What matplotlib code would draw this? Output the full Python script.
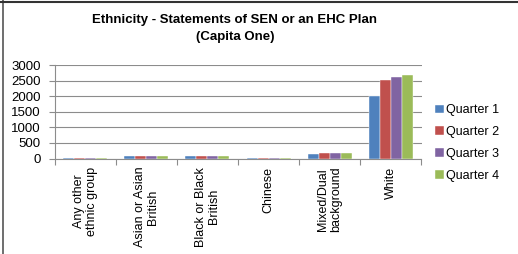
import matplotlib
matplotlib.use("Agg")
import matplotlib.pyplot as plt
import numpy as np
from matplotlib.lines import Line2D

categories = ["Any other\nethnic group", "Asian or Asian\nBritish", "Black or Black\nBritish",
              "Chinese", "Mixed/Dual\nbackground", "White"]
series_names = ["Quarter 1", "Quarter 2", "Quarter 3", "Quarter 4"]
q1 = [25, 70, 70, 15, 130, 2020]
q2 = [25, 75, 70, 15, 165, 2530]
q3 = [25, 90, 70, 15, 165, 2630]
q4 = [25, 90, 70, 15, 175, 2675]
yticks = [0, 500, 1000, 1500, 2000, 2500, 3000]
colors = ["#4F81BD", "#C0504D", "#8064A2", "#9BBB59"]

plt.rcParams['font.family'] = ['Liberation Sans', 'DejaVu Sans']

W, H = 518, 254
fig = plt.figure(figsize=(W/100, H/100), dpi=100)
ax = fig.add_axes([54.5/W, 1-158.5/H, (421.5-54.5)/W, (158.5-65)/H])

x = np.arange(len(categories))
bw = 0.18
for i, (vals, name) in enumerate(zip([q1, q2, q3, q4], series_names)):
    ax.bar(x + (i-1.5)*bw, vals, bw, color=colors[i], label=name, zorder=3,
           edgecolor='white', linewidth=0.3)

ax.set_xlim(-0.5, len(categories)-0.5)
ax.set_ylim(0, 3000)
ax.set_yticks(yticks)
ax.set_yticklabels([str(v) for v in yticks], fontsize=9.5)
ax.yaxis.grid(True, color='#8c8c8c', linewidth=0.8, zorder=0)
ax.set_xticks(np.arange(-0.5, len(categories), 1.0))
ax.set_xticklabels([])
ax.set_xticks(x, minor=True)
ax.set_xticklabels(categories, minor=True, rotation=90, fontsize=9, va='top', ha='center',
                   linespacing=1.1)
ax.tick_params(axis='x', which='minor', length=0, pad=6)
ax.tick_params(axis='x', which='major', length=4, color='#8c8c8c', direction='out')
ax.tick_params(axis='y', length=4, color='#8c8c8c', direction='out', pad=6)
for s in ['top', 'right']:
    ax.spines[s].set_visible(False)
ax.spines['left'].set_color('#8c8c8c')
ax.spines['bottom'].set_color('#8c8c8c')

fig.text(235/W, 1-20/H, "Ethnicity - Statements of SEN or an EHC Plan", ha='center', va='center',
         fontsize=9.5, fontweight='bold')
fig.text(235/W, 1-37/H, "(Capita One)", ha='center', va='center', fontsize=9.5, fontweight='bold')

leg = fig.legend(loc='upper left', bbox_to_anchor=(435/W, 1-104.5/H), frameon=False, fontsize=9,
                 handlelength=0.7, handleheight=0.7, handletextpad=0.2, labelspacing=0.78,
                 borderaxespad=0, borderpad=0)

fig.add_artist(Line2D([2.5/W, 2.5/W], [0, 1], transform=fig.transFigure, color='#555555', linewidth=1.2))
fig.add_artist(Line2D([0, 1], [1-1.5/H, 1-1.5/H], transform=fig.transFigure, color='#333333', linewidth=1.5))

fig.savefig("out.png", dpi=100)
